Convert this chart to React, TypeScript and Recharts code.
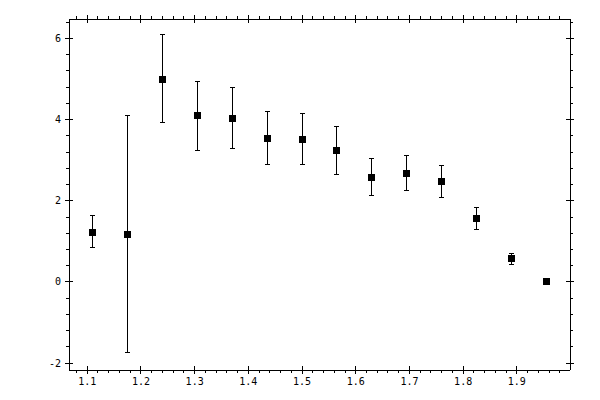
import { ScatterChart, Scatter, XAxis, YAxis, ErrorBar } from "recharts";

// measured points (x, y) and the ends of each error bar
const xValues = [1.11, 1.175, 1.24, 1.305, 1.37, 1.435, 1.5, 1.565, 1.63, 1.695, 1.76, 1.825, 1.89, 1.955];
const yValues = [1.23, 1.18, 5.0, 4.11, 4.04, 3.54, 3.52, 3.25, 2.58, 2.68, 2.48, 1.57, 0.57, 0.0];
const lowerBounds = [0.86, -1.75, 3.94, 3.25, 3.28, 2.9, 2.9, 2.66, 2.12, 2.26, 2.09, 1.3, 0.44, 0.0];
const upperBounds = [1.63, 4.09, 6.09, 4.95, 4.78, 4.21, 4.16, 3.84, 3.05, 3.12, 2.88, 1.84, 0.71, 0.0];

const xMajorTicks = [1.1, 1.2, 1.3, 1.4, 1.5, 1.6, 1.7, 1.8, 1.9];
const yMajorTicks = [-2, 0, 2, 4, 6];
const xDomain: [number, number] = [1.066, 1.999];
const yDomain: [number, number] = [-2.17, 6.48];

function makeTicks(from: number, to: number, step: number) {
  const out: number[] = [];
  for (let i = 0; from + i * step <= to + 1e-9; i++) {
    out.push(Math.round((from + i * step) * 1000) / 1000);
  }
  return out;
}

const xTicks = makeTicks(1.08, 1.98, 0.02);
const yTicks = makeTicks(-2, 6.4, 0.4);

const data = xValues.map((x, i) => ({
  x,
  y: yValues[i],
  err: [yValues[i] - lowerBounds[i], upperBounds[i] - yValues[i]],
}));

const FONT = "'DejaVu Sans Mono', monospace";

function AxisTick(props: any) {
  const { x, y, payload, side, majors } = props;
  const v = payload.value as number;
  const major = majors.some((m: number) => Math.abs(m - v) < 1e-6);
  let line;
  let label = null;
  if (side === "bottom") {
    line = major ? [x, y - 4, x, y + 4] : [x, y, x, y + 3];
    if (major)
      label = (
        <text x={x} y={y + 15} textAnchor="middle" fontSize={10} fontFamily={FONT} fill="#000">
          {v}
        </text>
      );
  } else if (side === "top") {
    line = major ? [x, y - 4, x, y + 4] : [x, y - 3, x, y];
  } else if (side === "left") {
    line = major ? [x - 4, y, x + 4, y] : [x - 3, y, x, y];
    if (major)
      label = (
        <text x={x - 8} y={y + 3.5} textAnchor="end" fontSize={10} fontFamily={FONT} fill="#000">
          {v}
        </text>
      );
  } else {
    line = major ? [x - 4, y, x + 4, y] : [x, y, x + 3, y];
  }
  return (
    <g>
      <line x1={line[0]} y1={line[1]} x2={line[2]} y2={line[3]} stroke="#000" strokeWidth={1} />
      {label}
    </g>
  );
}

function SquareDot(props: any) {
  const { cx, cy } = props;
  return <rect x={cx - 3.5} y={cy - 3.5} width={7} height={7} fill="#000" />;
}

export default function App() {
  return (
    <div style={{ position: "absolute", left: 0, top: 0, width: 600, height: 400, background: "#fff" }}>
      <ScatterChart
        width={600}
        height={400}
        margin={{ top: 0, right: 0, bottom: 0, left: 0 }}
        style={{ shapeRendering: "crispEdges" }}
      >
        <XAxis
          xAxisId="b"
          type="number"
          dataKey="x"
          orientation="bottom"
          domain={xDomain}
          allowDataOverflow
          ticks={xTicks}
          interval={0}
          height={30}
          tickSize={0}
          tickMargin={0}
          tickLine={false}
          axisLine={{ stroke: "#000", strokeWidth: 1 }}
          tick={<AxisTick side="bottom" majors={xMajorTicks} />}
        />
        <XAxis
          xAxisId="t"
          type="number"
          dataKey="x"
          orientation="top"
          domain={xDomain}
          allowDataOverflow
          ticks={xTicks}
          interval={0}
          height={19}
          tickSize={0}
          tickMargin={0}
          tickLine={false}
          axisLine={{ stroke: "#000", strokeWidth: 1 }}
          tick={<AxisTick side="top" majors={xMajorTicks} />}
        />
        <YAxis
          yAxisId="l"
          type="number"
          dataKey="y"
          orientation="left"
          domain={yDomain}
          allowDataOverflow
          ticks={yTicks}
          interval={0}
          width={69}
          tickSize={0}
          tickMargin={0}
          tickLine={false}
          axisLine={{ stroke: "#000", strokeWidth: 1 }}
          tick={<AxisTick side="left" majors={yMajorTicks} />}
        />
        <YAxis
          yAxisId="r"
          type="number"
          dataKey="y"
          orientation="right"
          domain={yDomain}
          allowDataOverflow
          ticks={yTicks}
          interval={0}
          width={30}
          tickSize={0}
          tickMargin={0}
          tickLine={false}
          axisLine={{ stroke: "#000", strokeWidth: 1 }}
          tick={<AxisTick side="right" majors={yMajorTicks} />}
        />
        <Scatter
          data={data}
          xAxisId="b"
          yAxisId="l"
          fill="#000"
          shape={<SquareDot />}
          isAnimationActive={false}
        >
          <ErrorBar dataKey="err" direction="y" width={2.5} stroke="#000" strokeWidth={1} isAnimationActive={false} />
        </Scatter>
      </ScatterChart>
    </div>
  );
}
